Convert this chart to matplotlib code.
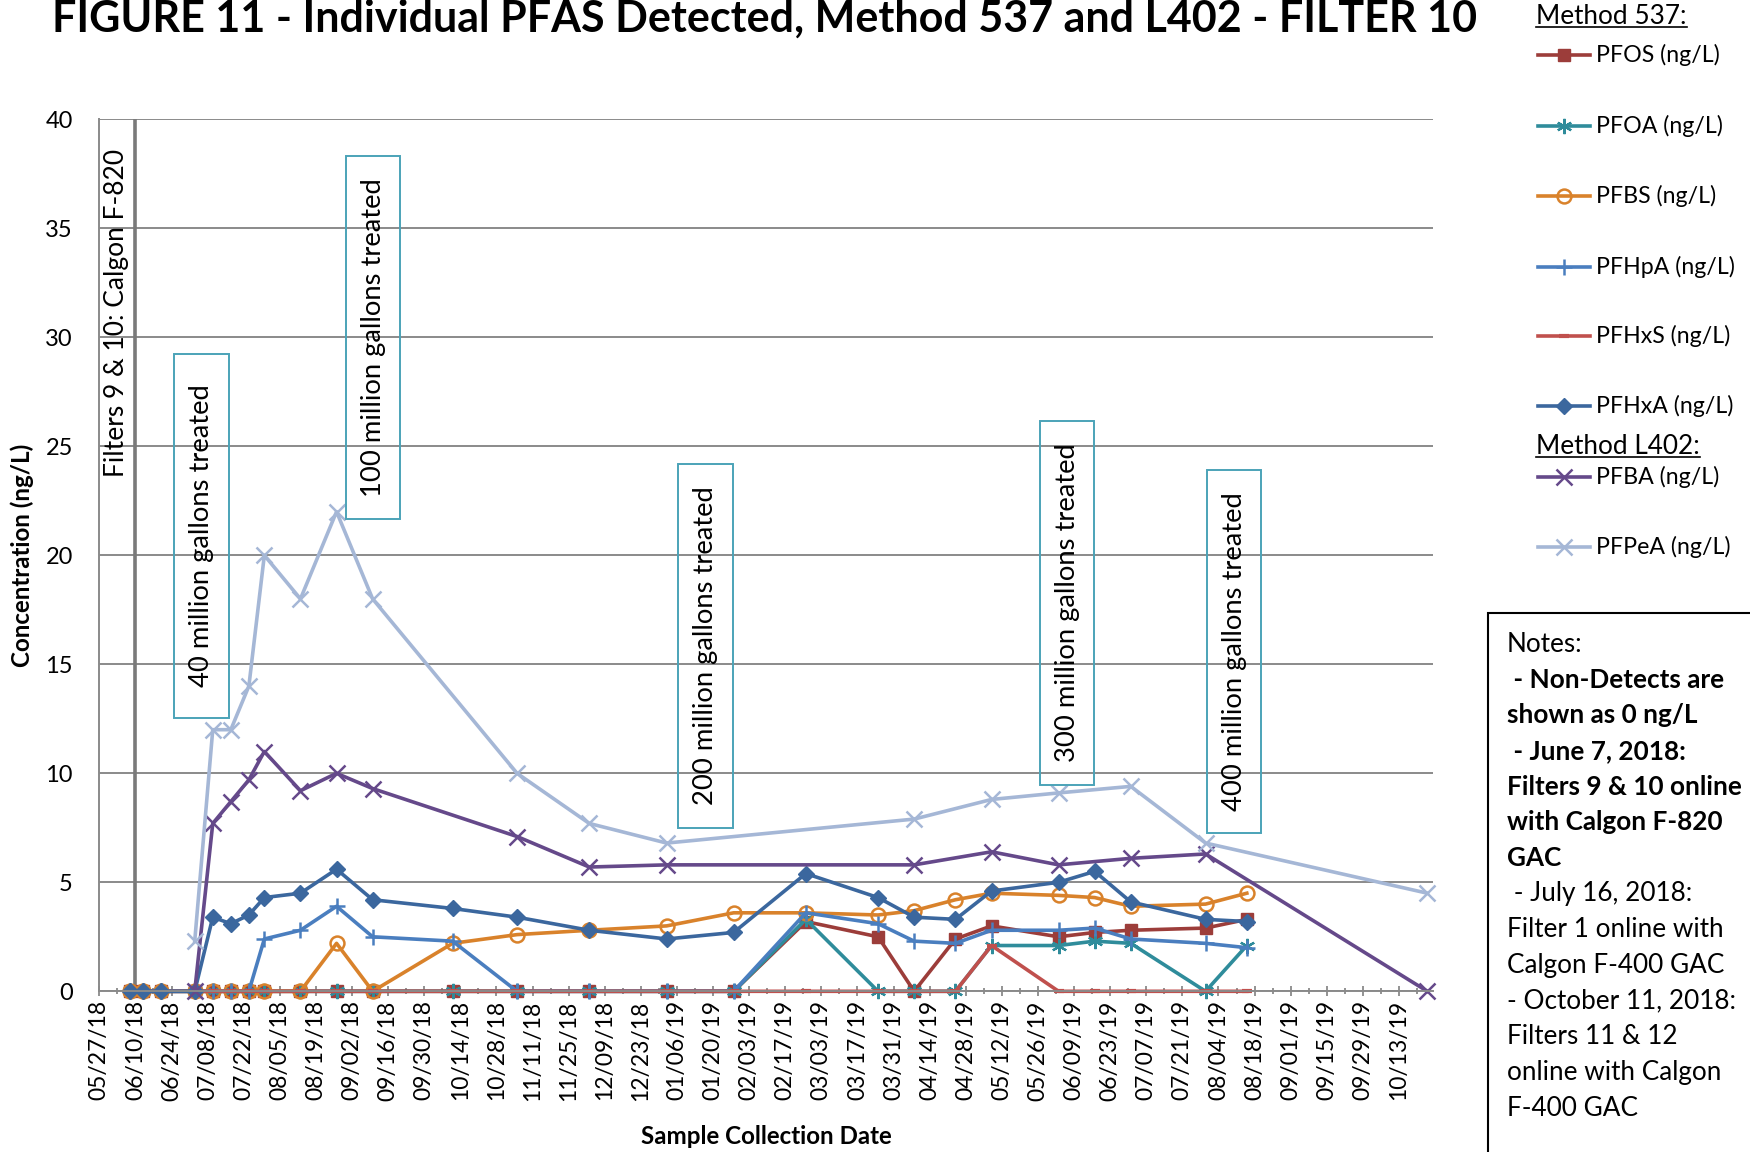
import datetime as dt
import matplotlib
matplotlib.use('Agg')
import matplotlib.pyplot as plt
import matplotlib.dates as mdates
import matplotlib.ticker as mticker
from matplotlib.lines import Line2D
from matplotlib.patches import Rectangle

plt.rcParams['font.family'] = ['Lato', 'DejaVu Sans']

W, H = 1750, 1152


def d(s):
    return dt.datetime.strptime(s, '%m/%d/%y')


def fx(x):
    return x / W


def fy(y):
    return 1 - y / H


# Method 537 sample dates and results (ng/L, non-detects = 0)
dates_537 = ['06/08/18', '06/13/18', '06/20/18', '07/03/18', '07/10/18', '07/17/18',
             '07/24/18', '07/30/18', '08/13/18', '08/27/18', '09/10/18', '10/11/18',
             '11/05/18', '12/03/18', '01/02/19', '01/28/19', '02/25/19', '03/25/19',
             '04/08/19', '04/24/19', '05/08/19', '06/03/19', '06/17/19', '07/01/19',
             '07/30/19', '08/15/19']
pfos = [0] * 16 + [3.2, 2.5, 0, 2.4, 3.0, 2.5, 2.7, 2.8, 2.9, 3.3]
pfoa = [0] * 16 + [3.3, 0, 0, 0, 2.1, 2.1, 2.3, 2.2, 0, 2.1]
pfbs = [0, 0, 0, 0, 0, 0, 0, 0, 0, 2.2, 0, 2.2, 2.6, 2.8, 3.0, 3.6, 3.6, 3.5,
        3.7, 4.2, 4.5, 4.4, 4.3, 3.9, 4.0, 4.5]
pfhpa = [0, 0, 0, 0, 0, 0, 0, 2.4, 2.8, 3.9, 2.5, 2.3, 0, 0, 0, 0, 3.6, 3.1,
         2.3, 2.2, 2.8, 2.8, 2.9, 2.4, 2.2, 2.0]
pfhxs = [0] * 20 + [2.1, 0, 0, 0, 0, 0]
pfhxa = [0, 0, 0, 0, 3.4, 3.1, 3.5, 4.3, 4.5, 5.6, 4.2, 3.8, 3.4, 2.8, 2.4, 2.7,
         5.4, 4.3, 3.4, 3.3, 4.6, 5.0, 5.5, 4.1, 3.3, 3.2]

# Method L402 sample dates and results
dates_l402 = ['07/03/18', '07/10/18', '07/17/18', '07/24/18', '07/30/18', '08/13/18',
              '08/27/18', '09/10/18', '11/05/18', '12/03/18', '01/02/19', '04/08/19',
              '05/08/19', '06/03/19', '07/01/19', '07/30/19', '10/24/19']
pfba = [0, 7.7, 8.7, 9.7, 11.0, 9.2, 10.0, 9.3, 7.1, 5.7, 5.8, 5.8, 6.4, 5.8,
        6.1, 6.3, 0]
pfpea = [2.3, 12.0, 12.0, 14.0, 20.0, 18.0, 22.0, 18.0, 10.0, 7.7, 6.8, 7.9,
         8.8, 9.1, 9.4, 6.8, 4.5]

filters_online = '06/10/18'
x_start, x_end = '05/27/18', '10/26/19'

t537 = [d(s) for s in dates_537]
tl402 = [d(s) for s in dates_l402]

series = [
    ('PFOS (ng/L)', t537, pfos, dict(color='#9C3D3A', marker='s', ms=9)),
    ('PFOA (ng/L)', t537, pfoa, dict(color='#2F8C9B', marker=(6, 2, 0), ms=11, mew=1.6)),
    ('PFBS (ng/L)', t537, pfbs, dict(color='#D9822B', marker='o', ms=10, mfc='none', mew=1.8)),
    ('PFHpA (ng/L)', t537, pfhpa, dict(color='#4A7EBF', marker='+', ms=12, mew=1.8)),
    ('PFHxS (ng/L)', t537, pfhxs, dict(color='#C0504D', marker='_', ms=7, mew=3)),
    ('PFHxA (ng/L)', t537, pfhxa, dict(color='#3B679E', marker='D', ms=8)),
    ('PFBA (ng/L)', tl402, pfba, dict(color='#65498A', marker='x', ms=11, mew=1.8)),
    ('PFPeA (ng/L)', tl402, pfpea, dict(color='#A5B7D6', marker='x', ms=11, mew=1.8)),
]

fig = plt.figure(figsize=(W / 100, H / 100), dpi=100)
ax = fig.add_axes([fx(99.3), fy(991.3), fx(1432.5) - fx(99.3), fy(119.3) - fy(991.3)])

for name, t, v, st in series:
    ax.plot(t, v, lw=2.6, label=name, clip_on=False, **st)

ax.axvline(d(filters_online), color='#7a7a7a', lw=2.6, zorder=1)

ax.set_xlim(d(x_start), d(x_end))
ax.set_ylim(0, 40)
ax.yaxis.set_major_locator(mticker.MultipleLocator(5))
ax.grid(axis='y', color='#8a8a8a', lw=1.4)
ax.set_axisbelow(True)

start_num = mdates.date2num(d(x_start))
ax.xaxis.set_major_locator(mticker.MultipleLocator(14, offset=start_num % 14))
ax.xaxis.set_minor_locator(mticker.MultipleLocator(7, offset=start_num % 7))
ax.xaxis.set_major_formatter(mdates.DateFormatter('%m/%d/%y'))
ax.tick_params(axis='x', which='major', direction='inout', length=7, width=1.3,
               color='#8a8a8a', labelsize=16.5, pad=3, labelrotation=90)
ax.tick_params(axis='x', which='minor', direction='inout', length=5, width=1.3,
               color='#8a8a8a')
ax.tick_params(axis='y', length=0, labelsize=17, pad=19)

for side in ['top', 'right']:
    ax.spines[side].set_visible(False)
for side in ['left', 'bottom']:
    ax.spines[side].set_color('#8a8a8a')
    ax.spines[side].set_linewidth(1.4)

# gallons-treated call-outs (axes fraction boxes)
callouts = [
    ('40 million gallons treated', 0.0560, 0.3134, 0.0972, 0.7308),
    ('100 million gallons treated', 0.1847, 0.5416, 0.2259, 0.9579),
    ('200 million gallons treated', 0.4342, 0.1875, 0.4750, 0.6047),
    ('300 million gallons treated', 0.7053, 0.2366, 0.7464, 0.6540),
    ('400 million gallons treated', 0.8310, 0.1815, 0.8714, 0.5978),
]
for txt, x0, y0, x1, y1 in callouts:
    ax.add_patch(Rectangle((x0, y0), x1 - x0, y1 - y0, transform=ax.transAxes,
                           fill=False, ec='#4BA3B8', lw=1.4, zorder=5, clip_on=False))
    ax.text((x0 + x1) / 2, (y0 + y1) / 2, txt, transform=ax.transAxes, rotation=90,
            ha='center', va='center', fontsize=19.7, zorder=6)

ax.text(0.013, 0.7784, 'Filters 9 & 10: Calgon F-820', transform=ax.transAxes,
        rotation=90, ha='center', va='center', fontsize=19, zorder=6)

fig.text(fx(765), fy(32), 'FIGURE 11 - Individual PFAS Detected, Method 537 and L402 - FILTER 10',
         ha='center', va='baseline', fontsize=31, weight='bold')
fig.text(fx(22), fy(555), 'Concentration (ng/L)', rotation=90, ha='center', va='center',
         fontsize=17.4, weight='bold')
fig.text(fx(766), fy(1136), 'Sample Collection Date', ha='center', va='center',
         fontsize=17.4, weight='bold')

# legend drawn by hand to keep the two method headers
legend_y = [54.7, 126.1, 196.4, 266.7, 335.9, 406.2, 476.5, 546.8]
headers = [('Method 537:', 16.7), ('Method L402:', 446.4)]
for (name, t, v, st), y in zip(series, legend_y):
    fig.add_artist(Line2D([fx(1538), fx(1564), fx(1590)], [fy(y)] * 3, lw=2.6,
                          markevery=[1], transform=fig.transFigure, **st))
    fig.text(fx(1596), fy(y), name, ha='left', va='center', fontsize=16.7)

header_texts = []
for txt, y in headers:
    header_texts.append(fig.text(fx(1536), fy(y), txt, ha='left', va='center', fontsize=18.8))

fig.canvas.draw()
renderer = fig.canvas.get_renderer()
for t in header_texts:
    bb = t.get_window_extent(renderer)
    fig.add_artist(Line2D([bb.x0 / W, bb.x1 / W], [(bb.y0 + 2) / H] * 2, color='black',
                          lw=1.2, transform=fig.transFigure))

# notes box, running off the right and bottom edges
fig.add_artist(Rectangle((fx(1488), -0.1), 0.3, fy(612.7) + 0.1, transform=fig.transFigure,
                         fill=False, ec='black', lw=1.5))
notes = [
    ('Notes:', 'normal'),
    (' - Non-Detects are', 'bold'),
    ('shown as 0 ng/L', 'bold'),
    (' - June 7, 2018:', 'bold'),
    ('Filters 9 & 10 online', 'bold'),
    ('with Calgon F-820', 'bold'),
    ('GAC', 'bold'),
    (' - July 16, 2018:', 'normal'),
    ('Filter 1 online with', 'normal'),
    ('Calgon F-400 GAC', 'normal'),
    ('- October 11, 2018:', 'normal'),
    ('Filters 11 & 12', 'normal'),
    ('online with Calgon', 'normal'),
    ('F-400 GAC', 'normal'),
]
for i, (txt, wt) in enumerate(notes):
    fig.text(fx(1507), fy(644 + i * 35.7), txt, ha='left', va='center', fontsize=18.8,
             weight=wt)

fig.savefig('out.png', dpi=100, facecolor='white')
